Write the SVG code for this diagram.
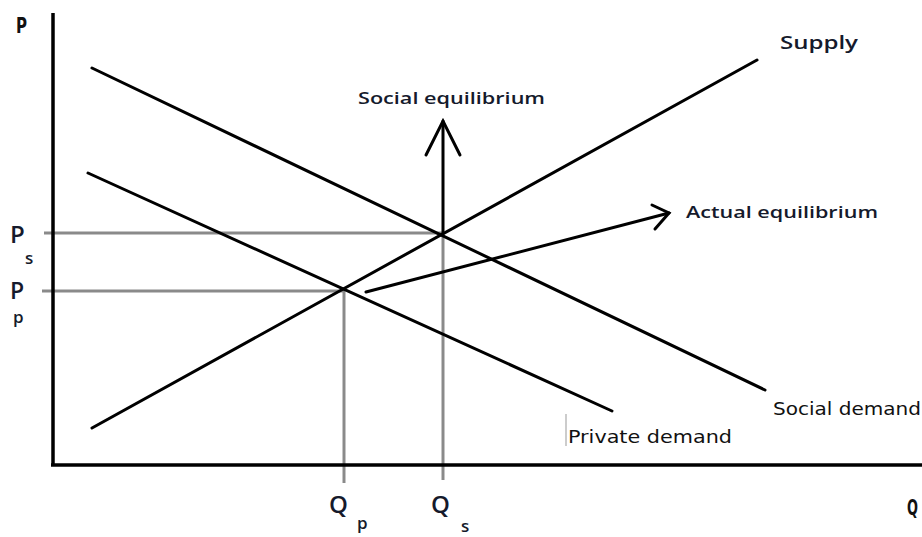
<svg xmlns="http://www.w3.org/2000/svg" width="922" height="537" viewBox="0 0 922 537">
<style>
.ax{stroke:#000;stroke-width:3.5;fill:none}
.cv{stroke:#000;stroke-width:3;fill:none;stroke-linecap:round}
.gl{stroke:#8a8a8a;stroke-width:3;fill:none}
.lb{font-family:"Open Sans","Liberation Sans",sans-serif;fill:#151a2c;font-weight:600}
.mn{font-family:"DejaVu Sans Condensed","DejaVu Sans",sans-serif;fill:#111}
</style>
<rect width="922" height="537" fill="#fff"/>
<g id="connectors">
<line class="gl" x1="44" y1="233" x2="443" y2="233"/>
<line class="gl" x1="42" y1="291" x2="344" y2="291"/>
<line class="gl" x1="344" y1="291" x2="344" y2="483"/>
<line class="gl" x1="443" y1="233" x2="443" y2="480"/>
<line class="ax" x1="53" y1="13" x2="53" y2="466"/>
<line class="ax" x1="51" y1="465" x2="922" y2="465"/>
<line class="cv" x1="92" y1="428" x2="757" y2="60"/>
<line class="cv" x1="92" y1="68" x2="765" y2="390"/>
<line class="cv" x1="88" y1="173" x2="612" y2="411"/>
<line class="cv" x1="443" y1="233" x2="443" y2="121"/>
<polyline class="cv" points="426,155 443,121 460,155"/>
<line class="cv" x1="366" y1="292" x2="669" y2="213"/>
<polyline class="cv" points="652,205 669,213 655,229"/>
<line x1="566" y1="414" x2="566" y2="446" stroke="#999" stroke-width="1"/>
</g>
<g id="axis-labels">
<text class="mn" x="16" y="33" font-size="21" font-weight="bold" textLength="11" lengthAdjust="spacingAndGlyphs">P</text>
<text class="mn" x="907" y="515" font-size="21" font-weight="bold" textLength="11" lengthAdjust="spacingAndGlyphs">Q</text>
<text class="lb" x="10" y="243" font-size="24" font-weight="500">P</text>
<text class="lb" x="25" y="264" font-size="17" font-weight="500">s</text>
<text class="lb" x="10" y="299" font-size="23" font-weight="500">P</text>
<text class="lb" x="13" y="323" font-size="17" font-weight="500">p</text>
<text class="lb" x="329" y="513" font-size="24" font-weight="500">Q</text>
<text class="lb" x="357" y="529" font-size="17" font-weight="500">p</text>
<text class="lb" x="431" y="513" font-size="24" font-weight="500">Q</text>
<text class="lb" x="461" y="532" font-size="17" font-weight="500">s</text>
</g>
<g id="supply-label"><text class="lb" x="780" y="49" font-size="18" textLength="78" lengthAdjust="spacingAndGlyphs">Supply</text></g>
<g id="social-eq-label"><text class="lb" x="358" y="104" font-size="17" textLength="187" lengthAdjust="spacingAndGlyphs">Social equilibrium</text></g>
<g id="actual-eq-label"><text class="lb" x="686" y="218" font-size="17" textLength="192" lengthAdjust="spacingAndGlyphs">Actual equilibrium</text></g>
<g id="social-demand-label"><text class="mn" x="773" y="415" font-size="17" textLength="148" lengthAdjust="spacingAndGlyphs">Social demand</text></g>
<g id="private-demand-label"><text class="mn" x="568" y="443" font-size="17" textLength="164" lengthAdjust="spacingAndGlyphs">Private demand</text></g>
</svg>
